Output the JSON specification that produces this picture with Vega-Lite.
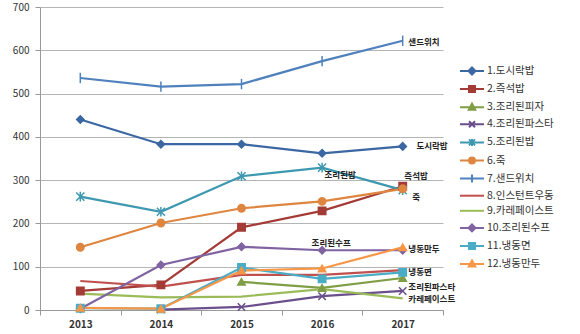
{
  "$schema": "https://vega.github.io/schema/vega-lite/v6.json",
  "width": 403,
  "height": 303,
  "autosize": {"type": "none"},
  "padding": {"left": 40, "top": 7, "right": 137, "bottom": 24},
  "background": "white",
  "config": {
    "view": {"stroke": null},
    "font": "Noto Sans CJK KR",
    "axis": {"labelFont": "Noto Sans CJK KR", "labelColor": "#333", "labelFontSize": 10, "domainColor": "#999", "tickColor": "#999", "gridColor": "#b5b5b5"}
  },
  "datasets": {
    "series": [
      {"series": "1.도시락밥", "year": 2013, "value": 440},
      {"series": "1.도시락밥", "year": 2014, "value": 383},
      {"series": "1.도시락밥", "year": 2015, "value": 383},
      {"series": "1.도시락밥", "year": 2016, "value": 362},
      {"series": "1.도시락밥", "year": 2017, "value": 378},
      {"series": "2.즉석밥", "year": 2013, "value": 44},
      {"series": "2.즉석밥", "year": 2014, "value": 58},
      {"series": "2.즉석밥", "year": 2015, "value": 191},
      {"series": "2.즉석밥", "year": 2016, "value": 229},
      {"series": "2.즉석밥", "year": 2017, "value": 286},
      {"series": "3.조리된피자", "year": 2015, "value": 65},
      {"series": "3.조리된피자", "year": 2016, "value": 51},
      {"series": "3.조리된피자", "year": 2017, "value": 74},
      {"series": "4.조리된파스타", "year": 2014, "value": 1},
      {"series": "4.조리된파스타", "year": 2015, "value": 7},
      {"series": "4.조리된파스타", "year": 2016, "value": 32},
      {"series": "4.조리된파스타", "year": 2017, "value": 44},
      {"series": "5.조리된밥", "year": 2013, "value": 262},
      {"series": "5.조리된밥", "year": 2014, "value": 227},
      {"series": "5.조리된밥", "year": 2015, "value": 309},
      {"series": "5.조리된밥", "year": 2016, "value": 329},
      {"series": "5.조리된밥", "year": 2017, "value": 277},
      {"series": "6.죽", "year": 2013, "value": 145},
      {"series": "6.죽", "year": 2014, "value": 201},
      {"series": "6.죽", "year": 2015, "value": 235},
      {"series": "6.죽", "year": 2016, "value": 251},
      {"series": "6.죽", "year": 2017, "value": 280},
      {"series": "7.샌드위치", "year": 2013, "value": 536},
      {"series": "7.샌드위치", "year": 2014, "value": 516},
      {"series": "7.샌드위치", "year": 2015, "value": 522},
      {"series": "7.샌드위치", "year": 2016, "value": 575},
      {"series": "7.샌드위치", "year": 2017, "value": 622},
      {"series": "8.인스턴트우동", "year": 2013, "value": 67},
      {"series": "8.인스턴트우동", "year": 2014, "value": 54},
      {"series": "8.인스턴트우동", "year": 2015, "value": 81},
      {"series": "8.인스턴트우동", "year": 2016, "value": 81},
      {"series": "8.인스턴트우동", "year": 2017, "value": 92},
      {"series": "9.카레페이스트", "year": 2013, "value": 38},
      {"series": "9.카레페이스트", "year": 2014, "value": 29},
      {"series": "9.카레페이스트", "year": 2015, "value": 31},
      {"series": "9.카레페이스트", "year": 2016, "value": 48},
      {"series": "9.카레페이스트", "year": 2017, "value": 27},
      {"series": "10.조리된수프", "year": 2013, "value": 3},
      {"series": "10.조리된수프", "year": 2014, "value": 104},
      {"series": "10.조리된수프", "year": 2015, "value": 146},
      {"series": "10.조리된수프", "year": 2016, "value": 138},
      {"series": "10.조리된수프", "year": 2017, "value": 138},
      {"series": "11.냉동면", "year": 2013, "value": 4},
      {"series": "11.냉동면", "year": 2014, "value": 3},
      {"series": "11.냉동면", "year": 2015, "value": 98},
      {"series": "11.냉동면", "year": 2016, "value": 72},
      {"series": "11.냉동면", "year": 2017, "value": 87},
      {"series": "12.냉동만두", "year": 2013, "value": 5},
      {"series": "12.냉동만두", "year": 2014, "value": 3},
      {"series": "12.냉동만두", "year": 2015, "value": 91},
      {"series": "12.냉동만두", "year": 2016, "value": 96},
      {"series": "12.냉동만두", "year": 2017, "value": 145}
    ],
    "labels": [
      {"label": "샌드위치", "year": 2017.07, "value": 620},
      {"label": "도시락밥", "year": 2017.17, "value": 378},
      {"label": "조리된밥", "year": 2016.03, "value": 311},
      {"label": "즉석밥", "year": 2017.02, "value": 310},
      {"label": "죽", "year": 2017.12, "value": 262},
      {"label": "조리된수프", "year": 2015.87, "value": 155},
      {"label": "냉동만두", "year": 2017.07, "value": 141},
      {"label": "냉동면", "year": 2017.07, "value": 87},
      {"label": "조리된파스타", "year": 2017.07, "value": 54},
      {"label": "카레페이스트", "year": 2017.07, "value": 26}
    ]
  },
  "layer": [
    {
      "data": {"name": "series"},
      "mark": {"type": "line", "strokeWidth": 2.2},
      "encoding": {
        "x": {"field": "year", "type": "quantitative", "scale": {"domain": [2012.5, 2017.5], "nice": false, "zero": false},
          "axis": {"title": null, "grid": false, "values": [2012.5, 2013, 2013.5, 2014, 2014.5, 2015, 2015.5, 2016, 2016.5, 2017, 2017.5],
            "labelExpr": "datum.value % 1 == 0 ? format(datum.value, 'd') : ''", "labelFontWeight": "bold", "labelPadding": 4, "tickSize": 5,
            "tickOpacity": {"condition": {"test": "datum.value % 1 == 0", "value": 0}, "value": 1}}},
        "y": {"field": "value", "type": "quantitative", "scale": {"domain": [0, 700], "nice": false},
          "axis": {"title": null, "values": [0, 100, 200, 300, 400, 500, 600, 700], "tickSize": 5, "labelPadding": 6, "domain": true}},
        "color": {"field": "series", "type": "nominal",
          "sort": ["1.도시락밥", "2.즉석밥", "3.조리된피자", "4.조리된파스타", "5.조리된밥", "6.죽", "7.샌드위치", "8.인스턴트우동", "9.카레페이스트", "10.조리된수프", "11.냉동면", "12.냉동만두"],
          "scale": {"domain": ["1.도시락밥", "2.즉석밥", "3.조리된피자", "4.조리된파스타", "5.조리된밥", "6.죽", "7.샌드위치", "8.인스턴트우동", "9.카레페이스트", "10.조리된수프", "11.냉동면", "12.냉동만두"],
            "range": ["#3B67A3", "#A43B37", "#7F9E45", "#6A4F8C", "#3E98B0", "#DE8640", "#4F81BD", "#C0504D", "#9BBB59", "#8064A2", "#4BACC6", "#F79646"]},
          "legend": {"title": null, "orient": "none", "legendX": 426, "legendY": 58, "padding": 0, "rowPadding": 3.1,
            "symbolSize": 100, "labelFontSize": 10.5, "labelColor": "#333", "labelFont": "Noto Sans CJK KR", "labelOffset": 9,
            "encode": {"symbols": {"update": {
              "shape": {"signal": "['M-2.4,0H2.4M0,-0.7L0.7,0L0,0.7L-0.7,0Z','M-2.4,0H2.4M-0.6,-0.6H0.6V0.6H-0.6Z','M-2.4,0H2.4M0,-0.7L0.65,0.5H-0.65Z','M-2.4,0H2.4M-0.6,-0.6L0.6,0.6M-0.6,0.6L0.6,-0.6','M-2.4,0H2.4M-0.6,-0.6L0.6,0.6M-0.6,0.6L0.6,-0.6M0,-0.7V0.7','M-2.4,0H2.4M-0.6,0A0.6,0.6 0 1,0 0.6,0A0.6,0.6 0 1,0 -0.6,0Z','M-2.4,0H2.4M0,-0.8V0.8','M-2.4,0H2.4','M-2.4,0H2.4','M-2.4,0H2.4M0,-0.7L0.7,0L0,0.7L-0.7,0Z','M-2.4,0H2.4M-0.6,-0.6H0.6V0.6H-0.6Z','M-2.4,0H2.4M0,-0.7L0.65,0.5H-0.65Z'][indexof(['1.도시락밥','2.즉석밥','3.조리된피자','4.조리된파스타','5.조리된밥','6.죽','7.샌드위치','8.인스턴트우동','9.카레페이스트','10.조리된수프','11.냉동면','12.냉동만두'], datum.value)]"},
              "fill": {"scale": "color", "field": "value"},
              "stroke": {"scale": "color", "field": "value"},
              "strokeWidth": {"value": 2}
            }}}}
        },
        "order": {"field": "year"}
      }
    },
    {
      "data": {"name": "series"},
      "transform": [{"filter": "datum.series != '8.인스턴트우동' && datum.series != '9.카레페이스트'"}],
      "mark": {"type": "point", "size": 55, "strokeWidth": 1.5, "opacity": 1},
      "encoding": {
        "x": {"field": "year", "type": "quantitative"},
        "y": {"field": "value", "type": "quantitative"},
        "shape": {"field": "series", "type": "nominal", "legend": null,
          "scale": {"domain": ["1.도시락밥", "2.즉석밥", "3.조리된피자", "4.조리된파스타", "5.조리된밥", "6.죽", "7.샌드위치", "10.조리된수프", "11.냉동면", "12.냉동만두"],
            "range": ["diamond", "square", "triangle-up", "M-1,-1L1,1M-1,1L1,-1", "M-1.1,-1.1L1.1,1.1M-1.1,1.1L1.1,-1.1M0,-1.3V1.3", "circle", "M0,-1.4V1.4", "diamond", "square", "triangle-up"]}},
        "fill": {"field": "series", "type": "nominal", "legend": null,
          "scale": {"domain": ["1.도시락밥", "2.즉석밥", "3.조리된피자", "4.조리된파스타", "5.조리된밥", "6.죽", "7.샌드위치", "8.인스턴트우동", "9.카레페이스트", "10.조리된수프", "11.냉동면", "12.냉동만두"],
            "range": ["#3B67A3", "#A43B37", "#7F9E45", "#6A4F8C", "#3E98B0", "#DE8640", "#4F81BD", "#C0504D", "#9BBB59", "#8064A2", "#4BACC6", "#F79646"]}},
        "stroke": {"field": "series", "type": "nominal", "legend": null,
          "scale": {"domain": ["1.도시락밥", "2.즉석밥", "3.조리된피자", "4.조리된파스타", "5.조리된밥", "6.죽", "7.샌드위치", "8.인스턴트우동", "9.카레페이스트", "10.조리된수프", "11.냉동면", "12.냉동만두"],
            "range": ["#3B67A3", "#A43B37", "#7F9E45", "#6A4F8C", "#3E98B0", "#DE8640", "#4F81BD", "#C0504D", "#9BBB59", "#8064A2", "#4BACC6", "#F79646"]}}
      }
    },
    {
      "data": {"name": "labels"},
      "mark": {"type": "text", "align": "left", "baseline": "middle", "fontSize": 8.5, "fontWeight": "bold", "font": "Noto Sans CJK KR", "color": "#222"},
      "encoding": {
        "x": {"field": "year", "type": "quantitative"},
        "y": {"field": "value", "type": "quantitative"},
        "text": {"field": "label"}
      }
    }
  ]
}
